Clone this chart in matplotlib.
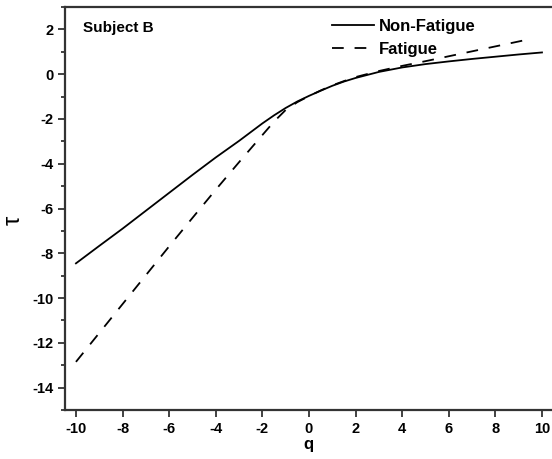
import matplotlib
matplotlib.use("Agg")
import matplotlib.pyplot as plt
from matplotlib.ticker import MultipleLocator

plt.rcParams["font.family"] = ["Liberation Sans", "DejaVu Sans"]
plt.rcParams["font.weight"] = "bold"
plt.rcParams["axes.unicode_minus"] = False

# tau(q)
q_nonfatigue = [-10, -9, -8, -7, -6, -5, -4, -3, -2, -1.5, -1, -0.5, 0, 0.5, 1, 1.5, 2,
                3, 4, 5, 6, 7, 8, 9, 10]
tau_nonfatigue = [-8.45, -7.67, -6.9, -6.1, -5.3, -4.5, -3.72, -2.98, -2.2, -1.84, -1.51,
                  -1.22, -0.97, -0.74, -0.52, -0.33, -0.17, 0.1, 0.3, 0.45, 0.57, 0.68,
                  0.78, 0.88, 0.97]

q_fatigue = [-10, -9, -8, -7, -6, -5, -4, -3, -2, -1.5, -1, -0.5, 0, 0.5, 1, 1.5, 2,
             3, 4, 5, 6, 7, 8, 9, 9.4]
tau_fatigue = [-12.85, -11.56, -10.27, -8.98, -7.69, -6.42, -5.16, -3.93, -2.72, -2.12,
               -1.6, -1.25, -0.98, -0.73, -0.5, -0.31, -0.13, 0.14, 0.37, 0.58, 0.8,
               1.02, 1.24, 1.46, 1.55]

fig = plt.figure(figsize=(5.52, 4.59), dpi=100)
ax = fig.add_axes([65 / 552, 1 - 410 / 459, 487 / 552, 403 / 459])

ax.plot(q_nonfatigue, tau_nonfatigue, color="black", lw=1.3, label="Non-Fatigue")
ax.plot(q_fatigue, tau_fatigue, color="black", lw=1.3, dashes=(6.5, 6.0), label="Fatigue")

ax.set_xlim(-10.47, 10.43)
ax.set_ylim(-15, 3)
ax.xaxis.set_major_locator(MultipleLocator(2))
ax.yaxis.set_major_locator(MultipleLocator(2))
ax.yaxis.set_minor_locator(MultipleLocator(1))

for side in ["left", "bottom", "top"]:
    ax.spines[side].set_linewidth(1.6)
    ax.spines[side].set_color("#333333")
ax.spines["right"].set_visible(False)

ax.tick_params(axis="both", which="major", direction="out", length=5, width=1.3,
               labelsize=10.5, color="#333333")
ax.tick_params(axis="both", which="minor", direction="out", length=3, width=1.3,
               color="#333333")
ax.tick_params(top=False, right=False)
for lbl in ax.get_xticklabels() + ax.get_yticklabels():
    lbl.set_fontweight("bold")

ax.set_xlabel("q", fontsize=12, fontweight="bold", labelpad=1)
ax.set_ylabel("τ", fontsize=17, fontweight="normal", va="center")
ax.yaxis.set_label_coords(-0.105, 0.47)

ax.text(0.037, 0.947, "Subject B", transform=ax.transAxes, fontsize=11,
        fontweight="bold", ha="left", va="center")

ax.legend(loc="upper left", bbox_to_anchor=(0.548, 0.970), frameon=False,
          handlelength=2.5, handletextpad=0.3, labelspacing=0.45,
          borderpad=0, borderaxespad=0, prop={"weight": "bold", "size": 12})

fig.savefig("out.png", dpi=100, facecolor="white")
